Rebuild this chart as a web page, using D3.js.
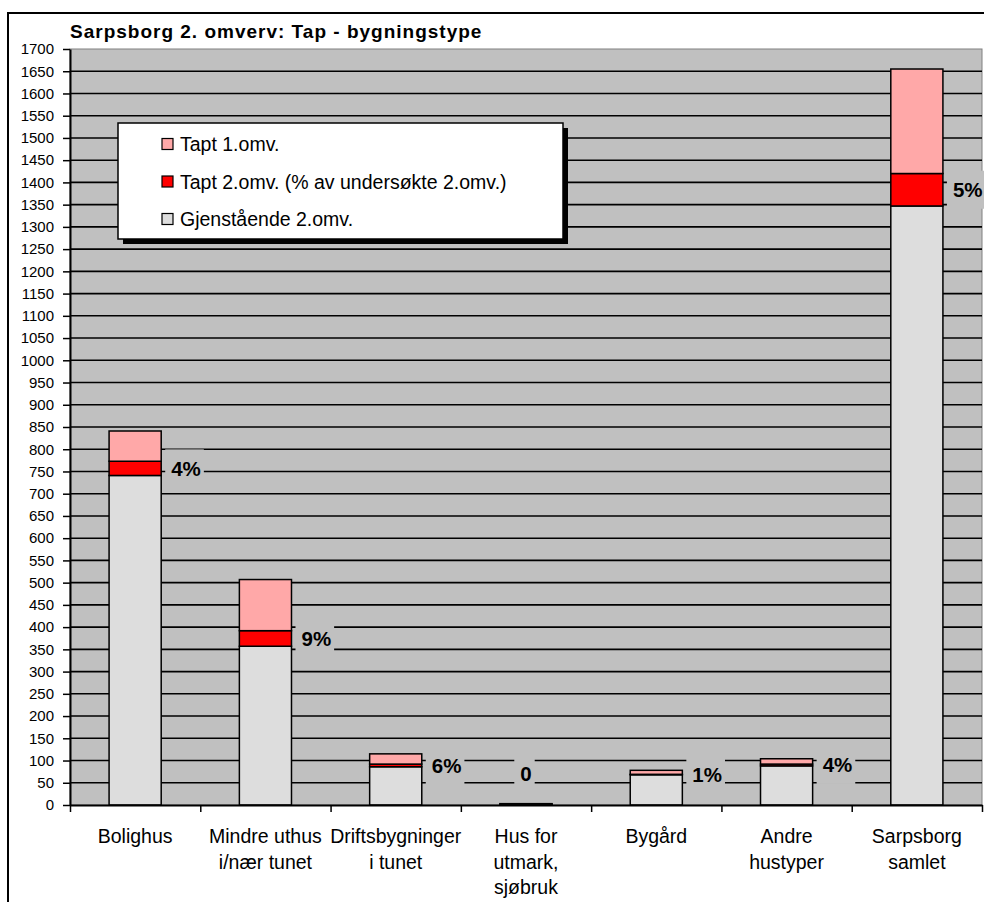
<!DOCTYPE html>
<html>
<head>
<meta charset="utf-8">
<script src="https://cdn.jsdelivr.net/npm/d3@7"></script>
<style>
  body { margin: 0; background: #fff; }
  text { font-family: "Liberation Sans", Arial, sans-serif; }
</style>
</head>
<body>
<svg id="chart" width="984" height="902"></svg>
<script>
// Sarpsborg 2. omverv: stacked bars per building type

const categories = [
  ["Bolighus"],
  ["Mindre uthus", "i/nær tunet"],
  ["Driftsbygninger", "i tunet"],
  ["Hus for", "utmark,", "sjøbruk"],
  ["Bygård"],
  ["Andre", "hustyper"],
  ["Sarpsborg", "samlet"]
];
const gjenstaende = [741, 357, 86, 2, 68, 88, 1347];
const tapt2 = [32, 35, 6, 0, 1, 4, 73];
const tapt1 = [68, 115, 23, 1, 9, 12, 235];
const pctLabels = ["4%", "9%", "6%", "0", "1%", "4%", "5%"];
const yTicks = d3.range(0, 1701, 50);

const seriesNames = {
  gjen: "Gjenstående 2.omv.",
  t2: "Tapt 2.omv. (% av undersøkte 2.omv.)",
  t1: "Tapt 1.omv."
};
const colors = { gjen: "#DDDDDD", t2: "#FF0000", t1: "#FFA8A8" };

const svg = d3.select("#chart");
const W = +svg.attr("width"), H = +svg.attr("height");

// plot area
const pL = 70, pR = 982, pT = 49, pB = 805;

// outer chart frame
svg.append("rect")
  .attr("x", 8).attr("y", 13).attr("width", W).attr("height", H)
  .attr("fill", "#fff").attr("stroke", "#000").attr("stroke-width", 2);

const keys = categories.map(c => c.join(" "));
const x = d3.scaleBand().domain(keys).range([pL, pR])
  .paddingInner(0.6).paddingOuter(0.3);
const y = d3.scaleLinear().domain([0, 1700]).range([pB, pT]);

// background
svg.append("rect")
  .attr("x", pL).attr("y", pT).attr("width", pR - pL).attr("height", pB - pT)
  .attr("fill", "#C0C0C0").attr("stroke", "#808080").attr("stroke-width", 1);

// gridlines
svg.append("g").selectAll("line")
  .data(yTicks.filter(d => d > 0 && d < 1700))
  .join("line")
  .attr("x1", pL).attr("x2", pR)
  .attr("y1", d => y(d)).attr("y2", d => y(d))
  .attr("stroke", "#000").attr("stroke-width", 1.6);

// stacked data
const rows = keys.map((k, i) => ({ key: k, gjen: gjenstaende[i], t2: tapt2[i], t1: tapt1[i] }));
const stack = d3.stack().keys(["gjen", "t2", "t1"])(rows);

svg.append("g").selectAll("g")
  .data(stack)
  .join("g")
  .attr("fill", d => colors[d.key])
  .selectAll("rect")
  .data(d => d)
  .join("rect")
  .attr("x", d => x(d.data.key))
  .attr("width", x.bandwidth())
  .attr("y", d => y(d[1]))
  .attr("height", d => y(d[0]) - y(d[1]))
  .attr("stroke", "#000").attr("stroke-width", 1.5);

// y axis
const yAxis = svg.append("g")
  .attr("transform", `translate(${pL},0)`)
  .call(d3.axisLeft(y).tickValues(yTicks).tickFormat(d3.format("d"))
    .tickSize(7).tickPadding(9).tickSizeOuter(0));
yAxis.select(".domain").attr("stroke", "#000").attr("stroke-width", 2);
yAxis.selectAll(".tick line").attr("stroke", "#000").attr("stroke-width", 1.5);
yAxis.selectAll(".tick text")
  .attr("font-family", "'Liberation Sans', Arial, sans-serif")
  .attr("font-size", 15).attr("fill", "#000");

// x axis (ticks at category boundaries)
const xb = d3.scaleLinear().domain([0, keys.length]).range([pL, pR]);
const xAxis = svg.append("g")
  .attr("transform", `translate(0,${pB})`)
  .call(d3.axisBottom(xb).ticks(keys.length).tickFormat("").tickSize(7).tickSizeOuter(0));
xAxis.select(".domain").attr("stroke", "#000").attr("stroke-width", 2);
xAxis.selectAll(".tick line").attr("stroke", "#000").attr("stroke-width", 1.5);

// category labels
const catText = svg.append("g").selectAll("text")
  .data(categories)
  .join("text")
  .attr("text-anchor", "middle")
  .attr("font-size", 19.5)
  .attr("fill", "#000");
catText.selectAll("tspan")
  .data((d, i) => d.map(line => ({ line, key: keys[i] })))
  .join("tspan")
  .attr("x", d => x(d.key) + x.bandwidth() / 2)
  .attr("y", (d, j) => 843 + j * 25.5)
  .text(d => d.line);

// percent labels with background boxes
const labG = svg.append("g");
rows.forEach((r, i) => {
  let tx, ty, anchor = "start";
  if (r.t2 === 0) {
    tx = x(r.key) + x.bandwidth() / 2;
    ty = y(r.gjen + r.t1) - 30;
    anchor = "middle";
  } else {
    tx = x(r.key) + x.bandwidth() + 10;
    ty = y(r.gjen + r.t2 / 2);
  }
  const g = labG.append("g");
  const box = g.append("rect").attr("fill", "#C0C0C0");
  const t = g.append("text")
    .attr("x", tx).attr("y", ty)
    .attr("dy", "0.36em")
    .attr("text-anchor", anchor)
    .attr("font-size", 20.5).attr("font-weight", "bold")
    .attr("fill", "#000")
    .text(pctLabels[i]);
  const bb = t.node().getBBox();
  box.attr("x", bb.x - 6).attr("width", bb.width + 9)
    .attr("y", ty - 19).attr("height", 38);
});

// title
svg.append("text")
  .attr("x", 70).attr("y", 38)
  .attr("font-size", 19).attr("font-weight", "bold")
  .attr("letter-spacing", 1)
  .attr("fill", "#000")
  .text("Sarpsborg 2. omverv: Tap - bygningstype");

// legend
const lg = svg.append("g").attr("transform", "translate(118,123)");
lg.append("rect").attr("x", 5).attr("y", 5).attr("width", 445).attr("height", 116).attr("fill", "#000");
lg.append("rect").attr("width", 445).attr("height", 116)
  .attr("fill", "#fff").attr("stroke", "#000").attr("stroke-width", 1.5);
const legendKeys = ["t1", "t2", "gjen"];
const item = lg.selectAll("g.item")
  .data(legendKeys)
  .join("g")
  .attr("class", "item")
  .attr("transform", (d, i) => `translate(44,${21 + i * 37.5})`);
item.append("rect")
  .attr("x", 0).attr("y", -5.5).attr("width", 11).attr("height", 11)
  .attr("fill", d => colors[d]).attr("stroke", "#000").attr("stroke-width", 1.2);
item.append("text")
  .attr("x", 18).attr("dy", "0.36em")
  .attr("font-size", 19.5).attr("fill", "#000")
  .text(d => seriesNames[d]);
</script>
</body>
</html>
